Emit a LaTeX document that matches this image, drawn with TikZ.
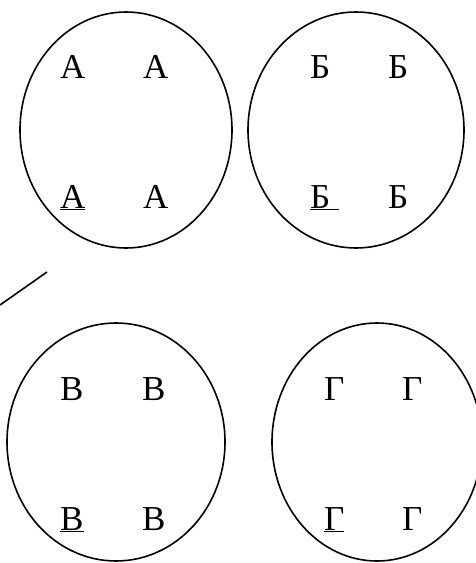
\documentclass[tikz,border=0pt]{standalone}
\usepackage{fontspec}
\setmainfont{Liberation Serif}
\usetikzlibrary{positioning}

\begin{document}
\begin{tikzpicture}[x=1pt,y=-1pt,
  group/.style={draw=black,line width=1.6pt},
  stroke/.style={draw=black,line width=1.6pt},
  letter/.style={anchor=base west,inner sep=0pt,
    font=\fontsize{35}{40}\selectfont}
]
\useasboundingbox (0,0) rectangle (475,563);
% Four groups; the lower left copy of each letter is underlined.
\foreach \g/\cx/\cy/\rx/\ry in {a/126/130/106/118,b/356/130/108/118,
  v/116/442/109/119,g/377/442/105/119} {
  \draw[group] (\cx,\cy) ellipse [x radius=\rx,y radius=\ry];
}
\foreach \g/\ch/\xa/\xb/\yt/\mark in {a/А/60/143/78/{\underline{А}},
  b/Б/310/388/78/{\underline{Б\ }},v/В/60/142/400/{\underline{В}},
  g/Г/324/402/400/{\underline{Г}}} {
  \node[letter] (\g-1) at (\xa,\yt) {\ch};
  \node[letter] (\g-2) at (\xb,\yt) {\ch};
  \node[letter] (\g-3) at (\xa,{\yt+130}) {\mark};
  \node[letter] (\g-4) at (\xb,{\yt+130}) {\ch};
}

% Loose stroke at the left edge.
\coordinate (stroke-start) at (0,305);
\coordinate (stroke-end) at (47,272);
\draw[stroke] (stroke-start) -- (stroke-end);
\end{tikzpicture}
\end{document}
